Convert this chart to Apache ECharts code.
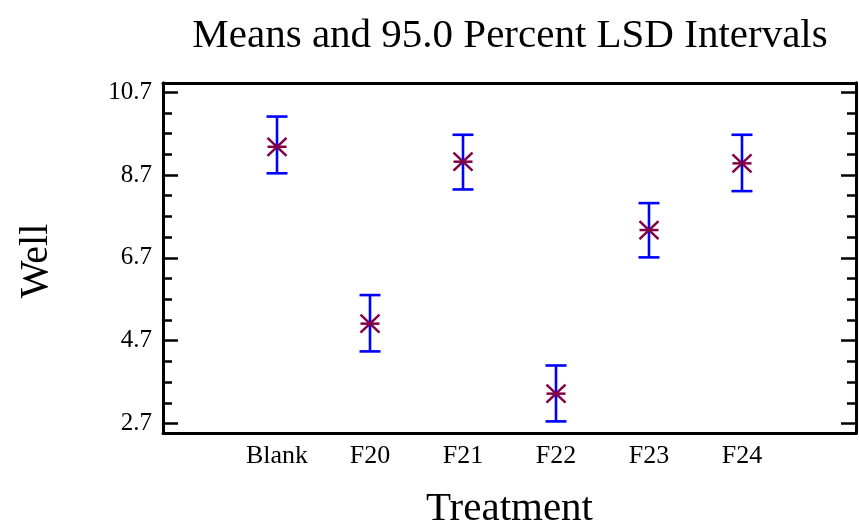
<!DOCTYPE html>
<html>
<head>
<meta charset="utf-8">
<script src="https://cdn.jsdelivr.net/npm/echarts@6/dist/echarts.min.js"></script>
<style>
  html, body { margin: 0; padding: 0; background: #fff; }
  #chart { width: 859px; height: 527px; }
</style>
</head>
<body>
<div id="chart"></div>
<script>
// Treatment groups and their means with 95% LSD interval bounds
const treatments = ['Blank', 'F20', 'F21', 'F22', 'F23', 'F24'];
const means = [9.38, 5.11, 9.02, 3.42, 7.37, 8.98];
const lower = [8.74, 4.44, 8.35, 2.75, 6.71, 8.31];
const upper = [10.11, 5.80, 9.67, 4.10, 8.02, 9.67];

// Axis tick values
const yMajorTicks = [2.7, 4.7, 6.7, 8.7, 10.7];
const yMinorTicks = [3.2, 3.7, 4.2, 5.2, 5.7, 6.2, 7.2, 7.7, 8.2, 9.2, 9.7, 10.2];
const xPositions = [1, 2, 3, 4, 5, 6];

const FONT = '"Liberation Serif", "Times New Roman", serif';
const Y_MIN = 2.47, Y_MAX = 10.92;
const X_MIN = -0.226, X_MAX = 7.226;

const rows = treatments.map((t, i) => [xPositions[i], means[i], lower[i], upper[i]]);

const chart = echarts.init(document.getElementById('chart'));

function yAxisDef(pos, ticks, len, withLabels) {
  return {
    type: 'value', position: pos, min: Y_MIN, max: Y_MAX,
    splitLine: { show: false },
    axisLine: { show: true, onZero: false, lineStyle: { color: '#000', width: 3 } },
    axisTick: { show: true, inside: true, length: len, customValues: ticks,
                lineStyle: { color: '#000', width: 2.5 } },
    axisLabel: withLabels ? {
      show: true, customValues: ticks, margin: 11,
      fontFamily: FONT, fontSize: 25, color: '#000',
      formatter: v => v.toFixed(1)
    } : { show: false }
  };
}

chart.setOption({
  backgroundColor: '#fff',
  animation: false,
  title: {
    text: 'Means and 95.0 Percent LSD Intervals',
    left: 505, top: 11, textAlign: 'center',
    textStyle: { fontFamily: FONT, fontSize: 41, fontWeight: 'normal', color: '#000' }
  },
  grid: { left: 163, right: 3, top: 83, bottom: 94, outerBoundsMode: 'none' },
  xAxis: [
    {
      type: 'value', position: 'bottom', min: X_MIN, max: X_MAX,
      name: 'Treatment', nameLocation: 'middle', nameGap: 56,
      nameTextStyle: { fontFamily: FONT, fontSize: 41, color: '#000' },
      splitLine: { show: false },
      axisLine: { show: true, onZero: false, lineStyle: { color: '#000', width: 3 } },
      axisTick: { show: false },
      axisLabel: {
        show: true, customValues: xPositions, margin: 10,
        fontFamily: FONT, fontSize: 26, color: '#000',
        formatter: v => treatments[Math.round(v) - 1] || ''
      }
    },
    {
      type: 'value', position: 'top', min: X_MIN, max: X_MAX,
      splitLine: { show: false },
      axisLine: { show: true, onZero: false, lineStyle: { color: '#000', width: 3 } },
      axisTick: { show: false }, axisLabel: { show: false }
    }
  ],
  yAxis: [
    Object.assign(yAxisDef('left', yMajorTicks, 15, true), {
      name: 'Well', nameLocation: 'middle', nameGap: 107, nameRotate: 90,
      nameTextStyle: { fontFamily: FONT, fontSize: 40, color: '#000', padding: [0, 6, 0, 0] }
    }),
    yAxisDef('left', yMinorTicks, 9, false),
    yAxisDef('right', yMajorTicks, 15, false),
    yAxisDef('right', yMinorTicks, 9, false)
  ],
  series: [{
    type: 'custom',
    xAxisIndex: 0, yAxisIndex: 0,
    data: rows,
    encode: { x: 0, y: [1, 2, 3] },
    renderItem: function (params, api) {
      const x = api.value(0);
      const c = api.coord([x, api.value(1)]);
      const lo = api.coord([x, api.value(2)]);
      const hi = api.coord([x, api.value(3)]);
      const cap = 10.5;
      const barStyle = { stroke: '#0000ff', lineWidth: 2.6 };
      const starStyle = { stroke: '#800045', lineWidth: 2.5 };
      const sx = 9.5, sy = 9;
      return {
        type: 'group',
        children: [
          { type: 'line', shape: { x1: lo[0], y1: lo[1], x2: hi[0], y2: hi[1] }, style: barStyle },
          { type: 'line', shape: { x1: hi[0] - cap, y1: hi[1], x2: hi[0] + cap, y2: hi[1] }, style: barStyle },
          { type: 'line', shape: { x1: lo[0] - cap, y1: lo[1], x2: lo[0] + cap, y2: lo[1] }, style: barStyle },
          { type: 'line', shape: { x1: c[0] - sx, y1: c[1], x2: c[0] + sx, y2: c[1] }, style: starStyle },
          { type: 'line', shape: { x1: c[0] - sx, y1: c[1] - sy, x2: c[0] + sx, y2: c[1] + sy }, style: starStyle },
          { type: 'line', shape: { x1: c[0] - sx, y1: c[1] + sy, x2: c[0] + sx, y2: c[1] - sy }, style: starStyle }
        ]
      };
    }
  }]
});
</script>
</body>
</html>
